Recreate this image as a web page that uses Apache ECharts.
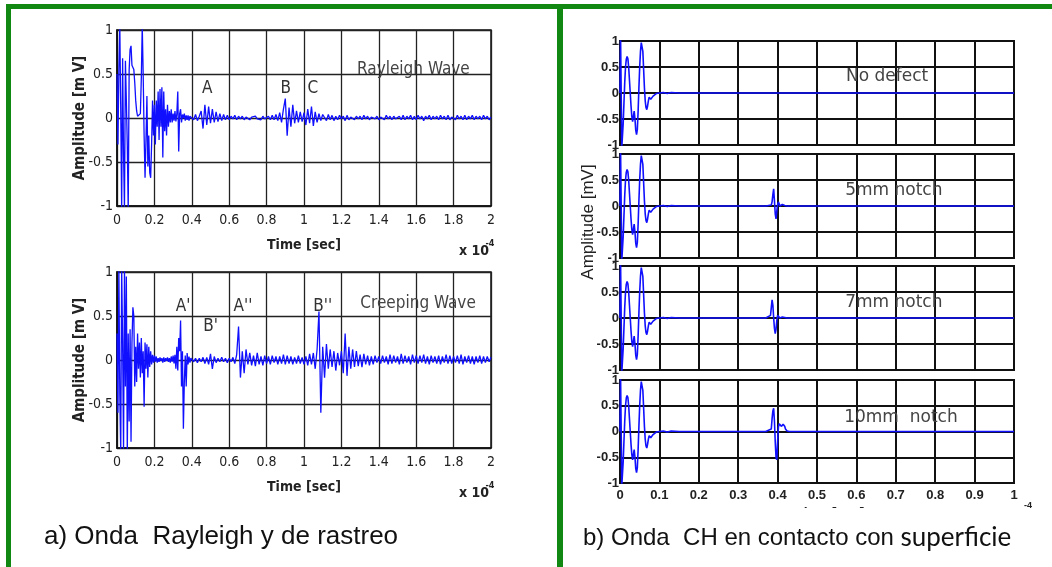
<!DOCTYPE html>
<html><head><meta charset="utf-8">
<script src="https://cdn.jsdelivr.net/npm/echarts@6/dist/echarts.min.js"></script>
<style>html,body{margin:0;padding:0;background:#fff}#c{width:1052px;height:567px}</style>
</head><body><div id="c"></div>
<script>
// ---------- DATA ----------
// Left panels: time axis in units of 1e-4 s. Early part sampled every 0.005, late part every 0.01
const rayleighEarly = [
 0.5,-0.3,0.55,1.05,0.1,-1.05,0.68,-0.4,-1.05,0.65,
 0.2,-0.3,-1.05,0.55,0.78,0.82,0.6,0.6,0.55,0.4,
 0.2,0.08,0.02,0.0,0.0,0.05,0.45,1.05,0.5,-0.2,
 -0.68,-0.25,0.25,-0.55,-0.2,-0.62,-0.68,-0.3,0.2,-0.2,
 0.15,-0.3,0.2,-0.1,0.3,-0.25,0.33,-0.1,0.35,-0.45,
 0.3,-0.15,0.1,-0.2,0.15,-0.1,0.08,-0.05,0.1,-0.05,
 0.05,-0.03,0.08,-0.04,0.05,0.3,-0.38,0.05,0.1,-0.05,
 0.04,0.0,0.05,-0.03,0.03,-0.02,0.03,-0.03,0.02,0.0
];
const rayleighLate = [
 0.03,-0.02,0.04,-0.03,0.02,0.08,-0.12,0.15,-0.08,0.13,
 -0.06,0.1,-0.05,0.07,-0.04,0.05,-0.03,0.04,-0.02,0.03,
 -0.02,0.02,-0.01,0.03,-0.02,0.02,-0.01,0.02,-0.02,0.01,
 0.02,-0.02,0.01,-0.01,0.02,-0.01,0.01,-0.02,0.02,-0.01,
 0.01,0.02,-0.02,0.03,-0.02,0.04,-0.03,0.06,-0.05,0.1,
 0.22,-0.2,0.12,-0.1,0.15,-0.06,0.08,-0.05,0.07,-0.04,
 0.06,-0.08,0.1,-0.06,0.13,-0.09,0.07,-0.05,0.05,-0.03,
 0.04,
 0.02,-0.03,0.04,-0.02,0.03,-0.03,0.02,-0.02,0.03,-0.01,
 0.02,-0.03,0.03,-0.02,0.01,0.03,-0.02,0.02,-0.01,0.02,
 -0.02,0.03,-0.01,0.02,-0.02,0.01,0.02,-0.01,0.02,-0.02,
 0.01,0.02,-0.02,0.03,-0.01,0.02,-0.02,0.02,-0.01,0.01,
 0.02,-0.02,0.03,-0.02,0.02,-0.01,0.03,-0.02,0.02,-0.02,
 0.03,-0.01,0.02,-0.03,0.02,-0.01,0.03,-0.02,0.02,-0.01,
 0.02,-0.02,0.03,-0.01,0.02,-0.02,0.03,-0.02,0.01,0.02,
 -0.02,0.03,-0.01,0.02,-0.02,0.03,-0.02,0.02,-0.01,0.03,
 -0.02,0.02,-0.01,0.02,-0.02,0.03,-0.01,0.02,-0.02,0.01
];
const creepingEarly = [
 0.3,-0.6,1.05,-0.4,-1.05,1.05,0.2,-1.05,1.05,-0.3,
 0.95,-1.05,0.3,-0.7,0.35,-0.93,0.2,0.6,0.5,-0.3,
 0.15,-0.25,0.3,-0.1,0.2,-0.2,0.25,-0.15,0.1,-0.53,
 0.2,-0.1,0.18,-0.2,0.15,-0.08,0.1,-0.05,0.06,-0.03,
 0.05,-0.02,0.04,-0.03,0.02,-0.02,0.03,-0.01,0.02,-0.03,
 0.03,-0.02,0.02,-0.01,0.03,-0.02,0.02,-0.03,0.04,-0.02,
 0.05,-0.04,0.06,-0.1,0.15,-0.12,0.25,0.1,0.45,-0.3,
 0.1,-0.78,-0.25,0.05,-0.3,0.08,-0.05,0.04,-0.03,0.02
];
const creepingLate = [
 0.03,-0.02,0.02,-0.03,0.02,-0.02,0.03,-0.04,0.03,-0.05,
 0.07,-0.1,0.04,-0.03,0.02,-0.02,0.03,-0.02,0.02,-0.03,
 0.02,-0.02,0.03,-0.04,0.06,0.38,-0.2,0.1,-0.15,0.12,
 -0.05,0.08,-0.06,0.05,-0.07,0.08,-0.05,0.04,-0.06,0.05,
 -0.04,0.04,-0.05,0.05,-0.03,0.04,-0.05,0.04,-0.04,0.06,
 -0.05,0.05,-0.04,0.04,-0.05,0.03,-0.04,0.05,-0.04,0.03,
 -0.05,0.04,-0.06,0.07,-0.05,0.08,-0.1,0.12,0.55,-0.6,
 0.15,-0.2,0.18,-0.1,0.12,-0.08,0.1,-0.12,0.08,-0.06,
 0.1,-0.15,0.3,-0.18,0.15,-0.1,0.12,-0.08,0.1,-0.07,
 0.06,-0.08,0.07,-0.05,0.05,-0.06,0.04,-0.05,0.05,-0.03,
 0.04,
 -0.04,0.05,-0.03,0.04,-0.05,0.06,-0.04,0.05,-0.03,0.04,
 -0.05,0.07,-0.04,0.05,-0.03,0.04,-0.05,0.06,-0.03,0.05,
 -0.04,0.05,-0.03,0.06,-0.04,0.04,-0.05,0.05,-0.03,0.04,
 -0.04,0.05,-0.05,0.04,-0.03,0.06,-0.04,0.05,-0.04,0.04,
 -0.03,0.05,-0.04,0.06,-0.05,0.04,-0.03,0.05,-0.04,0.04,
 -0.05,0.04,-0.03,0.05,-0.04,0.04,-0.03,0.04,-0.02,0.03
];
// Right panels: [time (1e-4 s), amplitude (mV)]
const initialPulse = [[0,0],[0.0015,1.05],[0.0045,-1.05],[0.008,-0.6],[0.010,-0.2],[0.012,0.2],[0.014,0.5],[0.016,0.65],[0.018,0.7],[0.020,0.66],[0.022,0.5],[0.024,0.25],[0.026,0],[0.028,-0.25],[0.030,-0.45],[0.032,-0.55],[0.034,-0.45],[0.036,-0.35],[0.038,-0.5],[0.040,-0.72],[0.042,-0.8],[0.044,-0.7],[0.046,-0.35],[0.048,0.1],[0.050,0.5],[0.052,0.8],[0.054,0.97],[0.056,1.0],[0.058,0.8],[0.060,0.45],[0.062,0.1],[0.064,-0.15],[0.066,-0.28],[0.068,-0.32],[0.070,-0.25],[0.072,-0.15],[0.074,-0.08],[0.076,-0.1],[0.078,-0.12],[0.080,-0.1],[0.084,-0.06],[0.088,-0.03],[0.092,-0.01],[0.096,0],[0.100,0],[0.110,0.01],[0.120,-0.01],[0.130,0.01],[0.150,0]];
const echoNone = [[0.370,0],[0.430,0]];
const echo5mm = [[0.370,0],[0.384,0.02],[0.386,0.08],[0.388,0.22],[0.390,0.33],[0.392,0.1],[0.394,-0.15],[0.396,-0.25],[0.398,-0.1],[0.400,0.02],[0.402,0.08],[0.404,0.06],[0.406,0],[0.408,-0.03],[0.410,0.02],[0.412,0.03],[0.414,0],[0.418,0.01],[0.424,0]];
const echo7mm = [[0.370,0],[0.382,0.05],[0.384,0.2],[0.386,0.35],[0.388,0.25],[0.390,0],[0.392,-0.2],[0.394,-0.3],[0.396,-0.22],[0.398,-0.05],[0.400,0.05],[0.402,0.06],[0.404,0.03],[0.406,0],[0.408,-0.02],[0.410,0.01],[0.412,0.02],[0.416,0],[0.424,0]];
const echo10mm = [[0.370,0],[0.384,0.05],[0.386,0.25],[0.388,0.4],[0.390,0.45],[0.392,0.2],[0.394,-0.2],[0.396,-0.5],[0.398,-0.55],[0.400,-0.2],[0.402,0.08],[0.404,0.15],[0.406,0.12],[0.410,0.1],[0.414,0.14],[0.418,0.1],[0.420,0.05],[0.424,0.01],[0.430,0]];
const pulseTail = [[1.0,0]];
const rightLabels = ['No defect','5mm notch','7mm notch','10mm  notch'];
const leftNotes = [
 {g:0,t:'A',x:0.483,y:0.33},{g:0,t:'B',x:0.903,y:0.33},{g:0,t:'C',x:1.047,y:0.33},
 {g:0,t:'Rayleigh Wave',x:1.585,y:0.545,big:true},
 {g:1,t:"A'",x:0.353,y:0.61},{g:1,t:"B'",x:0.5,y:0.38},{g:1,t:"A''",x:0.674,y:0.61},
 {g:1,t:"B''",x:1.1,y:0.61},{g:1,t:'Creeping Wave',x:1.61,y:0.64,big:true}
];
const rightNotes = [{x:0.678,y:0.31},{x:0.695,y:0.29},{x:0.695,y:0.29},{x:0.713,y:0.28}];

// ---------- BUILD ----------
function sampled(early, late){
  const out=[];
  early.forEach((v,i)=>out.push([+(i*0.005).toFixed(3), v]));
  late.forEach((v,i)=>out.push([+(0.4+i*0.01).toFixed(2), v]));
  return out;
}
const NARROW = "'Liberation Sans Narrow','Arial Narrow','DejaVu Sans Condensed',sans-serif";
const ARIAL = "'Liberation Sans',Arial,sans-serif";
const BLUE = '#1010ff';
const grids = [
  {left:117, top:30, width:374, height:176},
  {left:117, top:272, width:374, height:176},
  {left:620, top:41, width:394, height:104},
  {left:620, top:154, width:394, height:104},
  {left:620, top:266, width:394, height:104},
  {left:620, top:380, width:394, height:103}
].map(g=>Object.assign({show:true, borderColor:'#111', borderWidth:g.left<600?1.5:2, backgroundColor:'transparent'}, g));

const xAxes=[], yAxes=[], series=[];
for (let i=0;i<6;i++){
  const left = i<2;
  xAxes.push({
    type:'value', gridIndex:i, min:0, max:left?2:1, interval:left?0.2:0.1,
    axisLine:{show:true,onZero:false,lineStyle:{color:'#111',width:left?1.5:2}},
    axisTick:{show:false},
    axisLabel:{show:left||i===5, margin:left?7:6, color:'#222',
      fontFamily:left?NARROW:ARIAL, fontSize:left?14:13, fontWeight:left?'normal':'bold'},
    splitLine:{show:true,lineStyle:{color:left?'#222':'#111',width:left?1.3:2}}
  });
  yAxes.push({
    type:'value', gridIndex:i, min:-1, max:1, interval:0.5,
    axisLine:{show:true,onZero:false,lineStyle:{color:'#111',width:left?1.5:2}},
    axisTick:{show:false},
    axisLabel:{show:true, margin:left?4:1, color:'#222',
      fontFamily:left?NARROW:ARIAL, fontSize:left?14:13, fontWeight:left?'normal':'bold'},
    splitLine:{show:true,lineStyle:{color:left?'#222':'#111',width:left?1.3:2}}
  });
}
const rightEchoes=[echoNone,echo5mm,echo7mm,echo10mm];
const allData=[sampled(rayleighEarly,rayleighLate), sampled(creepingEarly,creepingLate)]
  .concat(rightEchoes.map(e=>initialPulse.concat(e,pulseTail)));
allData.forEach((d,i)=>series.push({
  type:'line', xAxisIndex:i, yAxisIndex:i, data:d, showSymbol:false, symbol:'none',
  clip:true, lineStyle:{color:BLUE,width:i<2?1.3:1.6}, z:3
}));

const chart = echarts.init(document.getElementById('c'), null, {renderer:'canvas'});
chart.setOption({animation:false, grid:grids, xAxis:xAxes, yAxis:yAxes, series:series});

// ---------- TEXT / FRAME ----------
const GREEN='#118811';
const g=[];
function txt(x,y,text,font,extra){
  g.push(Object.assign({type:'text', x:x, y:y, z:50,
    style:Object.assign({text:text, font:font, fill:'#222', textAlign:'center', textVerticalAlign:'middle'}, extra||{})}));
}
// frame
g.push({type:'rect', shape:{x:6,y:4,width:1046,height:5}, style:{fill:GREEN}, z:60});
g.push({type:'rect', shape:{x:6,y:4,width:5,height:563}, style:{fill:GREEN}, z:60});
g.push({type:'rect', shape:{x:557,y:4,width:6,height:563}, style:{fill:GREEN}, z:60});
// left axis titles
[118,360].forEach(cy=>{
  g.push({type:'text', x:80, y:cy, rotation:Math.PI/2, z:50,
    style:{text:'Amplitude [m V]', font:"bold 15px "+NARROW, fill:'#222', textAlign:'center', textVerticalAlign:'middle'}});
});
[[245,251],[487,493]].forEach(p=>{
  txt(304,p[0],'Time [sec]',"bold 14px "+NARROW);
  txt(474,p[1],'x 10',"bold 14px "+NARROW);
  txt(490,p[1]-7,'-4',"bold 9px "+NARROW);
});
// left annotations
leftNotes.forEach(n=>{
  const p=chart.convertToPixel({gridIndex:n.g},[n.x,n.y]);
  txt(p[0],p[1],n.t,"17px "+NARROW,{fill:n.big?'#444':'#333'});
});
// right annotations
rightNotes.forEach((n,i)=>{
  const p=chart.convertToPixel({gridIndex:i+2},[n.x,n.y]);
  txt(p[0],p[1],rightLabels[i],"17px 'DejaVu Sans',sans-serif",{fill:'#444'});
});
// right axis titles
g.push({type:'text', x:588, y:222, rotation:Math.PI/2, z:50,
  style:{text:'Amplitude [mV]', font:"17px "+ARIAL, fill:'#222', textAlign:'center', textVerticalAlign:'middle'}});
txt(830,514,'Time [sec]',"bold 14px "+ARIAL);
txt(1010,513,'x 10',"bold 13px "+ARIAL);
txt(1028,506,'-4',"bold 9px "+ARIAL);
// white caption box over bottom right
g.push({type:'rect', shape:{x:563,y:508,width:489,height:59}, style:{fill:'#fff'}, z:70});
g.push({type:'text', x:44, y:537, z:80,
  style:{text:'a) Onda  Rayleigh y de rastreo', font:"26px "+ARIAL, fill:'#111', textAlign:'left', textVerticalAlign:'middle'}});
g.push({type:'text', x:583, y:538, z:80,
  style:{text:'b) Onda  CH en contacto con {s|superficie}', font:"24px "+ARIAL, fill:'#111', textAlign:'left', textVerticalAlign:'middle',
    rich:{s:{font:"26px Lato,'Open Sans',sans-serif", fill:'#111'}}}});
chart.setOption({graphic:{elements:g}});
</script></body></html>
